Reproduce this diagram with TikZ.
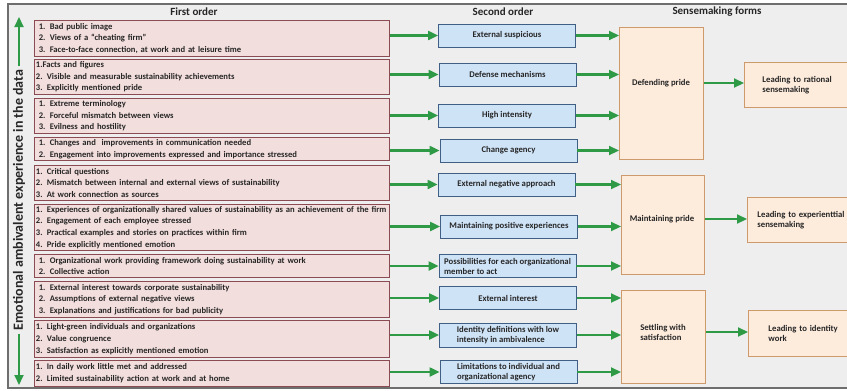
\documentclass[tikz,border=0pt]{standalone}
\usepackage{fontspec}
\setmainfont{Carlito}
\usetikzlibrary{arrows.meta,calc}
\definecolor{bgc}{HTML}{EEEEEE}
\definecolor{framec}{HTML}{6E6E6E}
\definecolor{fofill}{HTML}{F2DEDC}
\definecolor{fobd}{HTML}{8A4B52}
\definecolor{sofill}{HTML}{CFE3F7}
\definecolor{sobd}{HTML}{3F5F85}
\definecolor{sefill}{HTML}{FDEBDC}
\definecolor{sebd}{HTML}{CE9A6C}
\definecolor{grn}{HTML}{2E9A46}
\begin{document}
\begin{tikzpicture}[x=1pt,y=-1pt,
  every node/.style={font=\fontsize{8.7}{11.7}\selectfont\bfseries, text=black!85},
  first/.style={draw=fobd, fill=fofill, line width=0.9pt, text width=352pt, inner xsep=1.5pt, inner ysep=0pt, align=left, anchor=north west, font=\fontsize{8.6}{11.7}\selectfont\bfseries},
  second/.style={draw=sobd, fill=sofill, line width=0.9pt, minimum width=137pt, minimum height=23pt, inner sep=1pt, align=center, font=\fontsize{8.7}{10}\selectfont\bfseries},
  sense/.style={draw=sebd, fill=sefill, line width=0.9pt, anchor=north west, inner sep=0pt},
  lead/.style={draw=sebd, fill=sefill, line width=0.9pt, anchor=north west, align=left, minimum height=45pt, font=\fontsize{8.7}{10}\selectfont\bfseries},
  stext/.style={align=left, font=\fontsize{8.7}{10}\selectfont\bfseries},
  header/.style={font=\fontsize{11}{13}\selectfont\bfseries},
  garrow/.style={draw=grn, line width=2.2pt, -{Triangle[length=10pt,width=9pt]}}
]
\useasboundingbox (0,0) rectangle (847,391);
\fill[white] (0,0) rectangle (847,391);
\fill[bgc] (8,4) rectangle (880,388);
\draw[framec, line width=1.2pt] (8,4) -- (8,388);
\draw[framec, line width=2.6pt] (7.4,4) -- (880,4);
\draw[framec, line width=2pt] (7.4,388) -- (880,388);

% headers
\node[header] (h1) at (194,12) {First order};
\node[header] (h2) at (503,12) {Second order};
\node[header] (h3) at (717,12) {Sensemaking forms};

% vertical label
\node[rotate=90, font=\fontsize{14}{16}\selectfont\bfseries] (V) at (19,200) {Emotional ambivalent experience in the data};
\coordinate (vtop) at (19,17);
\coordinate (vbot) at (19,385);
\draw[garrow, line width=2pt] (V.east) -- (vtop);
\draw[garrow, line width=2pt] (V.west) -- (vbot);

% first order
\node[first, minimum height=36pt] (f1) at (34,20) {\ 1. Bad public image\\\ 2. Views of a “cheating firm”\\\ 3. Face-to-face connection, at work and at leisure time};
\node[first, minimum height=35pt] (f2) at (34,59) {1.Facts and figures\\2. Visible and measurable sustainability achievements\\3. Explicitly mentioned pride};
\node[first, minimum height=35pt] (f3) at (34,98) {\ 1. Extreme terminology\\\ 2. Forceful mismatch between views\\\ 3. Evilness and hostility};
\node[first, minimum height=23pt] (f4) at (34,137) {\ 1. Changes and\ \ improvements in communication needed\\\ 2. Engagement into improvements expressed and importance stressed};
\node[first, minimum height=35pt] (f5) at (34,165) {1. Critical questions\\2. Mismatch between internal and external views of sustainability\\3. At work connection as sources};
\node[first, minimum height=46pt] (f6) at (34,204) {1. Experiences of organizationally shared values of sustainability as an achievement of the firm\\2. Engagement of each employee stressed\\3. Practical examples and stories on practices within firm\\4. Pride explicitly mentioned emotion};
\node[first, minimum height=23pt] (f7) at (34,254) {\ 1. Organizational work providing framework doing sustainability at work\\\ 2. Collective action};
\node[first, minimum height=36pt] (f8) at (34,281) {\ 1. External interest towards corporate sustainability\\\ 2. Assumptions of external negative views\\\ 3. Explanations and justifications for bad publicity};
\node[first, minimum height=37pt] (f9) at (34,320) {1. Light-green individuals and organizations\\2. Value congruence\\3. Satisfaction as explicitly mentioned emotion};
\node[first, minimum height=26pt] (f10) at (34,360) {1. In daily work little met and addressed\\2. Limited sustainability action at work and at home};

% second order
\node[second] (s1) at (507,35.5) {External suspicious};
\node[second] (s2) at (507.5,74.5) {Defense mechanisms};
\node[second] (s3) at (507,115.5) {High intensity};
\node[second] (s4) at (508.5,150.5) {Change agency};
\node[second] (s5) at (506.5,184.5) {External negative approach};
\node[second] (s6) at (509,226.5) {Maintaining positive experiences};
\node[second, align=left] (s7) at (507.5,266) {Possibilities for each organizational\\member to act};
\node[second] (s8) at (508,298) {External interest};
\node[second, align=left, minimum height=24pt] (s9) at (508,335) {Identity definitions with low\\intensity in ambivalence};
\node[second, align=left] (s10) at (508.5,372) {Limitations to individual and\\organizational agency};

% sensemaking
\node[sense, minimum width=84pt, minimum height=132pt] (D) at (619,27) {};
\node[sense, minimum width=83pt, minimum height=99pt] (M) at (621,175) {};
\node[sense, minimum width=84pt, minimum height=93pt] (S) at (621,290) {};
\node[stext] (Dt) at (661,83) {Defending pride};
\node[stext] (Mt) at (662,219) {Maintaining pride};
\node[stext] (St) at (663,332) {Settling with\\satisfaction};

% leading
\node[lead, text width=96pt, inner xsep=18pt] (L1) at (744,62) {Leading to rational\\sensemaking};
\node[lead, text width=110pt, inner xsep=10pt] (L2) at (747,197) {Leading to experienttial\\sensemaking};
\node[lead, text width=96pt, inner xsep=20pt, minimum height=46pt] (L3) at (748,310) {Leading to identity\\work};

% arrows first -> second
\foreach \i in {1,...,10}{
  \draw[garrow] (f\i.east |- s\i.west) -- (s\i.west);
}
% second -> sensemaking
\foreach \i in {1,2,3,4}{ \draw[garrow] (s\i.east) -- (D.west |- s\i.east); }
\foreach \i in {5,6,7}{ \draw[garrow] (s\i.east) -- (M.west |- s\i.east); }
\foreach \i in {8,9,10}{ \draw[garrow] (s\i.east) -- (S.west |- s\i.east); }
% sensemaking -> leading
\draw[garrow] (D.east |- Dt.east) -- (L1.west |- Dt.east);
\draw[garrow] (M.east |- Mt.east) -- (L2.west |- Mt.east);
\draw[garrow] (S.east |- St.east) -- (L3.west |- St.east);
\end{tikzpicture}
\end{document}
